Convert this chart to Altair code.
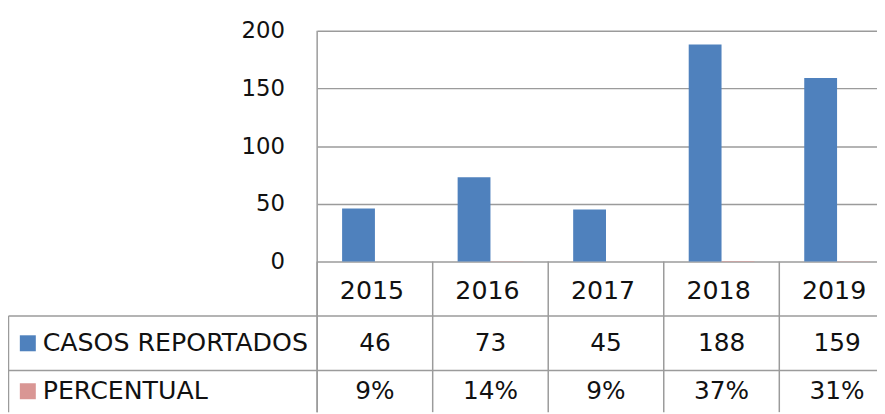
import altair as alt
import pandas as pd

# ---- data ----
years = ["2015", "2016", "2017", "2018", "2019"]
casos = [46, 73, 45, 188, 159]
percentual = [0.09, 0.14, 0.09, 0.37, 0.31]
series = ["CASOS REPORTADOS", "PERCENTUAL"]
series_colors = ["#4F81BD", "#D99694"]
y_ticks = [0, 50, 100, 150, 200]
rows = ["hdr", "casos", "pct"]

# ---- style / layout ----
FONT = "DejaVu Sans"
TXT = "#111111"
LINE = "#9b9b9b"
PL, PT = 312, 21
W, H = 877 - PL, 406 - PT
BAR_H = 233
ROW_H = 55

bars_df = pd.DataFrame({
    "year": years * 2,
    "series": [series[0]] * len(years) + [series[1]] * len(years),
    "value": casos + percentual,
})

xsc = alt.Scale(domain=years, range=[0, 583], paddingInner=0, paddingOuter=0)
csc = alt.Scale(domain=series, range=series_colors)


def tsc():
    return alt.Scale(type="band", domain=rows, range=[BAR_H, BAR_H + 3 * ROW_H],
                     paddingInner=0, paddingOuter=0)


bars = alt.Chart(bars_df).mark_bar().encode(
    x=alt.X("year:N", scale=xsc, axis=None),
    xOffset=alt.XOffset("series:N", scale=alt.Scale(domain=series, paddingInner=0, paddingOuter=0.76)),
    y=alt.Y("value:Q",
            scale=alt.Scale(domain=[0, 200], range=[BAR_H, 0], nice=False, zero=True),
            axis=alt.Axis(values=y_ticks, grid=True, gridColor=LINE, gridWidth=1.5,
                          domain=False, ticks=False, labelFont=FONT, labelFontSize=23,
                          labelColor=TXT, labelPadding=33, title=None)),
    color=alt.Color("series:N", scale=csc, legend=None),
)

# plot left border (continues through table)
left_border = alt.Chart(pd.DataFrame({"k": [0]})).mark_rule(color=LINE, strokeWidth=1.5).encode(
    x=alt.value(0), y=alt.value(0), y2=alt.value(H)
)

# column separators in table
vlines = alt.Chart(pd.DataFrame({"year": years})).mark_rule(color=LINE, strokeWidth=1.5).encode(
    x=alt.X("year:N", scale=xsc, bandPosition=0, axis=None),
    y=alt.value(BAR_H), y2=alt.value(H),
)

# horizontal table lines (label rows)
hlines = alt.Chart(pd.DataFrame({"row": ["casos", "pct"]})).mark_rule(color=LINE, strokeWidth=1.5).encode(
    y=alt.Y("row:N", scale=tsc(), bandPosition=0, axis=None),
    x=alt.value(-PL + 0.5), x2=alt.value(W),
)

# label column left border
label_border = alt.Chart(pd.DataFrame({"row": ["casos"]})).mark_rule(color=LINE, strokeWidth=1.5).encode(
    y=alt.Y("row:N", scale=tsc(), bandPosition=0, axis=None),
    y2=alt.value(H),
    x=alt.value(-PL + 0.5),
)

# header years
hdr = alt.Chart(pd.DataFrame({"year": years, "row": "hdr"})).mark_text(
    font=FONT, fontSize=25.5, color=TXT, dx=-3
).encode(
    x=alt.X("year:N", scale=xsc, axis=None),
    y=alt.Y("row:N", scale=tsc(), bandPosition=0.55, axis=None),
    text="year:N",
)


def row_layers(row, sname, values, fmt, bp):
    vals = alt.Chart(pd.DataFrame({"year": years, "value": values, "row": row})).mark_text(
        font=FONT, fontSize=25, color=TXT
    ).encode(
        x=alt.X("year:N", scale=xsc, axis=None),
        y=alt.Y("row:N", scale=tsc(), bandPosition=bp, axis=None),
        text=alt.Text("value:Q", format=fmt),
    )
    lab_df = pd.DataFrame({"series": [sname], "row": [row]})
    lab = alt.Chart(lab_df).mark_text(
        font=FONT, fontSize=25.5, color=TXT, align="left"
    ).encode(
        x=alt.value(-PL + 35),
        y=alt.Y("row:N", scale=tsc(), bandPosition=bp, axis=None),
        text="series:N",
    )
    sq = alt.Chart(lab_df).mark_square(size=260, opacity=1, filled=True).encode(
        x=alt.value(-PL + 20),
        y=alt.Y("row:N", scale=tsc(), bandPosition=bp, axis=None),
        color=alt.Color("series:N", scale=csc, legend=None),
    )
    return [vals, lab, sq]


layers = [bars, left_border, vlines, hlines, label_border, hdr]
layers += row_layers("casos", series[0], casos, "d", 0.5)
layers += row_layers("pct", series[1], percentual, ".0%", 0.38)

chart = alt.layer(*layers).properties(
    width=W, height=H,
    autosize=alt.AutoSizeParams(type="none"),
    padding={"left": PL, "top": PT, "right": 0, "bottom": 0},
    background="white",
).resolve_scale(y="independent").configure_view(stroke=None)

chart.save("out.html", embed_options={"renderer": "svg", "actions": False})
